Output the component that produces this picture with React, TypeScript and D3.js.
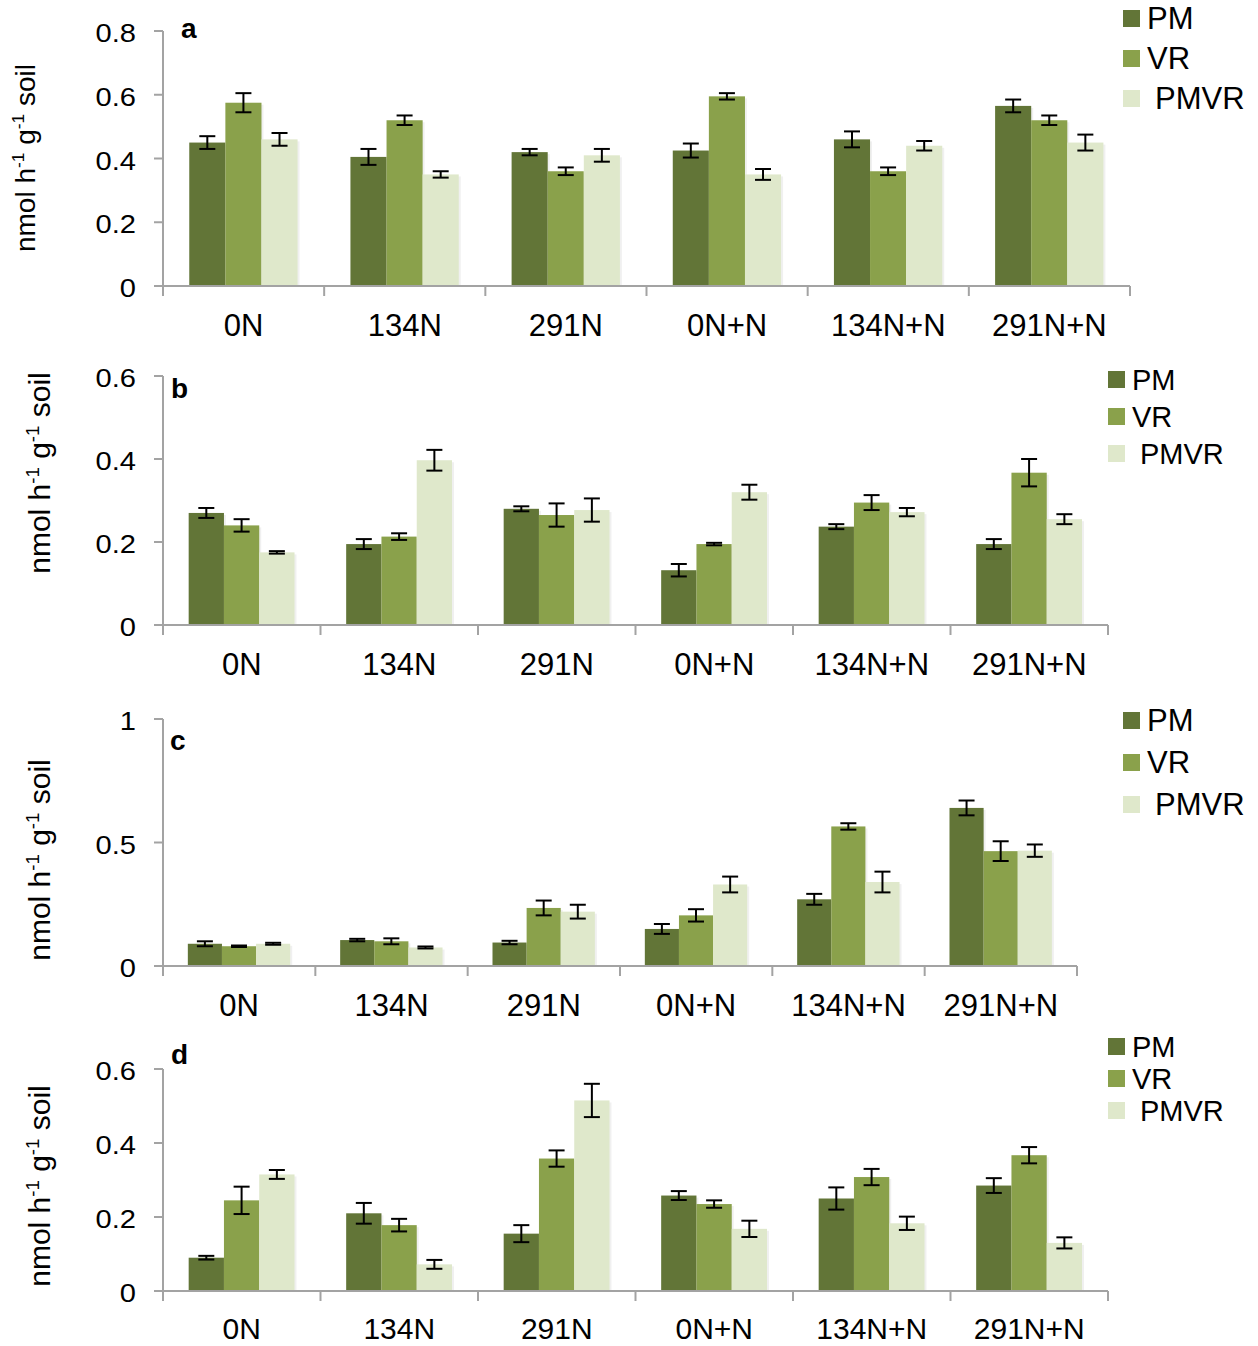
import React, { useRef, useEffect } from 'react';
import * as d3 from 'd3';

const categories = ['0N', '134N', '291N', '0N+N', '134N+N', '291N+N'];
const seriesNames = ['PM', 'VR', 'PMVR'];
const colors = ['#627537', '#8aa14b', '#dfe8cb'];

// panel a
const aPM = [0.45, 0.405, 0.42, 0.425, 0.46, 0.565];
const aPMErr = [0.02, 0.025, 0.01, 0.022, 0.025, 0.02];
const aVR = [0.575, 0.52, 0.36, 0.595, 0.36, 0.52];
const aVRErr = [0.03, 0.015, 0.012, 0.01, 0.012, 0.015];
const aPMVR = [0.46, 0.35, 0.41, 0.35, 0.44, 0.45];
const aPMVRErr = [0.02, 0.01, 0.02, 0.017, 0.015, 0.025];
const aTicks = [0, 0.2, 0.4, 0.6, 0.8];

// panel b
const bPM = [0.27, 0.195, 0.28, 0.132, 0.237, 0.195];
const bPMErr = [0.012, 0.012, 0.006, 0.015, 0.006, 0.012];
const bVR = [0.24, 0.213, 0.265, 0.195, 0.295, 0.367];
const bVRErr = [0.015, 0.008, 0.028, 0.003, 0.018, 0.033];
const bPMVR = [0.175, 0.397, 0.277, 0.32, 0.272, 0.255];
const bPMVRErr = [0.003, 0.025, 0.028, 0.018, 0.01, 0.012];
const bTicks = [0, 0.2, 0.4, 0.6];

// panel c
const cPM = [0.09, 0.105, 0.095, 0.15, 0.27, 0.64];
const cPMErr = [0.01, 0.005, 0.007, 0.02, 0.022, 0.03];
const cVR = [0.08, 0.1, 0.235, 0.205, 0.565, 0.465];
const cVRErr = [0.003, 0.012, 0.03, 0.025, 0.013, 0.04];
const cPMVR = [0.09, 0.075, 0.22, 0.33, 0.34, 0.467];
const cPMVRErr = [0.004, 0.004, 0.028, 0.032, 0.042, 0.025];
const cTicks = [0, 0.5, 1];

// panel d
const dPM = [0.09, 0.21, 0.155, 0.258, 0.25, 0.285];
const dPMErr = [0.005, 0.028, 0.023, 0.012, 0.03, 0.02];
const dVR = [0.245, 0.178, 0.358, 0.235, 0.308, 0.367];
const dVRErr = [0.037, 0.017, 0.022, 0.01, 0.022, 0.022];
const dPMVR = [0.315, 0.072, 0.515, 0.168, 0.183, 0.13];
const dPMVRErr = [0.012, 0.012, 0.045, 0.022, 0.018, 0.015];
const dTicks = [0, 0.2, 0.4, 0.6];

const panels = [
  { letter: 'a', values: [aPM, aVR, aPMVR], errs: [aPMErr, aVRErr, aPMVRErr], ticks: aTicks,
    top: 31, bottom: 286, right: 1130, letterX: 181, letterY: 38,
    yLabelX: 25, yLabelY: 158, yLabelFont: 28,
    legendX: 1123, legendY: 18, legendStep: 40, legendFont: 31, catY: 336, catFont: 31 },
  { letter: 'b', values: [bPM, bVR, bPMVR], errs: [bPMErr, bVRErr, bPMVRErr], ticks: bTicks,
    top: 376, bottom: 625, right: 1108, letterX: 171, letterY: 398,
    yLabelX: 40, yLabelY: 473, yLabelFont: 30,
    legendX: 1108, legendY: 379, legendStep: 37, legendFont: 29, catY: 675, catFont: 31 },
  { letter: 'c', values: [cPM, cVR, cPMVR], errs: [cPMErr, cVRErr, cPMVRErr], ticks: cTicks,
    top: 719, bottom: 966, right: 1077, letterX: 170, letterY: 750,
    yLabelX: 40, yLabelY: 860, yLabelFont: 30,
    legendX: 1123, legendY: 720, legendStep: 42, legendFont: 31, catY: 1016, catFont: 31 },
  { letter: 'd', values: [dPM, dVR, dPMVR], errs: [dPMErr, dVRErr, dPMVRErr], ticks: dTicks,
    top: 1069, bottom: 1291, right: 1108, letterX: 171, letterY: 1064,
    yLabelX: 40, yLabelY: 1186, yLabelFont: 30,
    legendX: 1108, legendY: 1046, legendStep: 32, legendFont: 29, catY: 1339, catFont: 30 },
];

const App = () => {
  const svgRef = useRef<SVGSVGElement>(null);

  useEffect(() => {
    const svg = d3.select(svgRef.current);
    svg.selectAll('*').remove();
    const left = 163;
    const font = 'Liberation Sans, Arial, sans-serif';
    const axisColor = '#a3a3a3';

    panels.forEach(p => {
      const g = svg.append('g');
      const yMax = p.ticks[p.ticks.length - 1];
      const y = d3.scaleLinear().domain([0, yMax]).range([p.bottom, p.top]);
      const x0 = d3.scaleBand().domain(categories).range([left, p.right]).padding(0);
      const bw = x0.bandwidth();
      const x1 = d3.scaleBand().domain(seriesNames).range([bw * 0.163, bw * 0.835]).padding(0);

      // y axis + tick labels
      g.append('line').attr('x1', left).attr('x2', left).attr('y1', p.top).attr('y2', p.bottom + 10)
        .attr('stroke', axisColor).attr('stroke-width', 2);
      p.ticks.forEach(t => {
        g.append('line').attr('x1', left - 9).attr('x2', left).attr('y1', y(t)).attr('y2', y(t))
          .attr('stroke', axisColor).attr('stroke-width', 2);
        g.append('text').attr('transform', `translate(136,${y(t) + 11}) scale(1.12,1)`)
          .attr('text-anchor', 'end')
          .attr('font-family', font).attr('font-size', 26).attr('fill', '#000')
          .text(String(t));
      });

      // bars (with a faint drop shadow)
      seriesNames.forEach((s, si) => {
        categories.forEach((c, ci) => {
          const v = p.values[si][ci];
          const bx = (x0(c) as number) + (x1(s) as number);
          g.append('rect').attr('x', bx + 2).attr('y', y(v) + 2).attr('width', x1.bandwidth())
            .attr('height', p.bottom - y(v) - 2).attr('fill', '#000').attr('opacity', 0.06);
          g.append('rect').attr('x', bx).attr('y', y(v)).attr('width', x1.bandwidth())
            .attr('height', p.bottom - y(v)).attr('fill', colors[si]);
        });
      });

      // x axis
      g.append('line').attr('x1', left - 9).attr('x2', p.right).attr('y1', p.bottom).attr('y2', p.bottom)
        .attr('stroke', axisColor).attr('stroke-width', 2);
      [...categories.map(c => x0(c) as number), p.right].forEach(tx => {
        g.append('line').attr('x1', tx).attr('x2', tx).attr('y1', p.bottom).attr('y2', p.bottom + 10)
          .attr('stroke', axisColor).attr('stroke-width', 2);
      });
      categories.forEach(c => {
        g.append('text').attr('x', (x0(c) as number) + bw / 2).attr('y', p.catY).attr('text-anchor', 'middle')
          .attr('font-family', font).attr('font-size', p.catFont).attr('fill', '#000').text(c);
      });

      // error bars
      seriesNames.forEach((s, si) => {
        categories.forEach((c, ci) => {
          const v = p.values[si][ci];
          const e = p.errs[si][ci];
          const cx = (x0(c) as number) + (x1(s) as number) + x1.bandwidth() / 2;
          const eg = g.append('g').attr('stroke', '#000').attr('stroke-width', 2);
          eg.append('line').attr('x1', cx).attr('x2', cx).attr('y1', y(v + e)).attr('y2', y(v - e));
          eg.append('line').attr('x1', cx - 8).attr('x2', cx + 8).attr('y1', y(v + e)).attr('y2', y(v + e));
          eg.append('line').attr('x1', cx - 8).attr('x2', cx + 8).attr('y1', y(v - e)).attr('y2', y(v - e));
        });
      });

      // panel letter
      g.append('text').attr('x', p.letterX).attr('y', p.letterY).attr('font-family', font)
        .attr('font-size', 28).attr('font-weight', 'bold').text(p.letter);

      // y label
      const yl = g.append('text')
        .attr('transform', `translate(${p.yLabelX + 10},${p.yLabelY}) rotate(-90)`)
        .attr('text-anchor', 'middle').attr('font-family', font).attr('font-size', p.yLabelFont).attr('fill', '#000');
      yl.append('tspan').text('nmol h');
      yl.append('tspan').attr('dy', -11).attr('font-size', p.yLabelFont * 0.62).text('-1');
      yl.append('tspan').attr('dy', 11).text(' g');
      yl.append('tspan').attr('dy', -11).attr('font-size', p.yLabelFont * 0.62).text('-1');
      yl.append('tspan').attr('dy', 11).text(' soil');

      // legend
      seriesNames.forEach((s, si) => {
        const ly = p.legendY + si * p.legendStep;
        g.append('rect').attr('x', p.legendX).attr('y', ly - 8).attr('width', 17).attr('height', 17)
          .attr('fill', colors[si]);
        g.append('text').attr('x', p.legendX + (si === 2 ? 32 : 24)).attr('y', ly + 11)
          .attr('font-family', font).attr('font-size', p.legendFont).attr('fill', '#000').text(s);
      });
    });
  }, []);

  return (
    <svg ref={svgRef} width={1258} height={1346}
      style={{ position: 'absolute', left: 0, top: 0, background: '#fff' }} />
  );
};

export default App;
